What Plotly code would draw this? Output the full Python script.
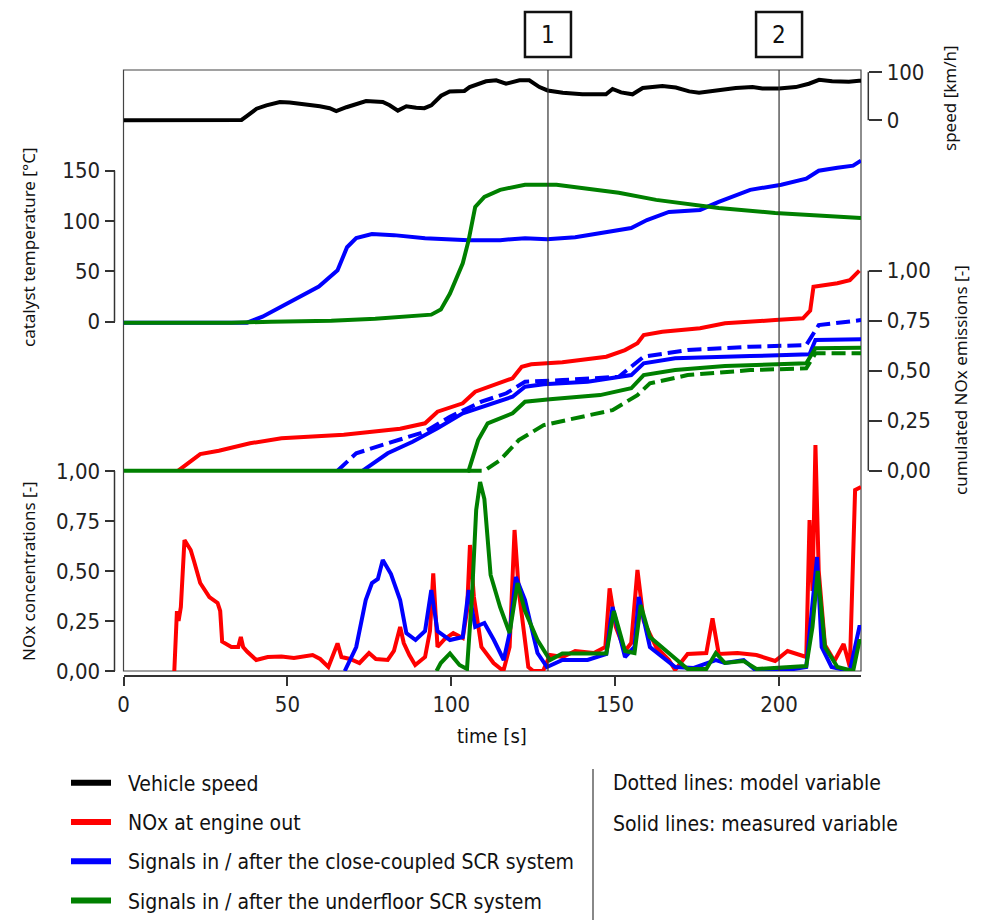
import plotly.graph_objects as go

# ---------------- data ----------------
speed_t = [0, 30, 31, 35, 36, 37.5, 40.6, 43.6, 47.7, 50.7, 52, 55.8, 59.9, 62.9, 64.9, 68, 70, 74, 79.1, 81.2,
           83.7, 86.3, 89.3, 91.8, 93.9, 96.9, 99.5, 104, 105.6, 108.6, 110.6, 113.7, 116.7, 120.8, 123.8, 126.9,
           129.4, 134, 140, 147.2, 149.2, 151.8, 155.3, 158.4, 164.4, 168.5, 172.6, 175.6, 180.7, 186.8, 191.9,
           194.9, 200, 205.1, 209.1, 212.2, 216.2, 221.3, 224.4, 225]
speed_v = [0, 0, 1.5, 1.5, 0.5, 8, 24, 31, 38, 37, 36, 31, 29, 25, 19, 27, 31, 40, 38, 31,
           20, 29, 26, 25, 31, 51, 60, 61, 69, 76, 81, 83, 76, 83, 83, 69,
           62, 57, 54, 54, 65, 58, 54, 67, 71, 68, 60, 57, 62, 67, 69,
           66, 66, 69, 76, 84, 81, 80, 82, 82]

temp_cc_t = [0, 37.7, 42.4, 50.1, 59.6, 65.3, 68.2, 71, 75.8, 82.5, 92, 105.3, 114.9, 122.5, 129.2, 137.8, 147.3,
             154.9, 159.7, 166.4, 175.9, 181.6, 191.2, 200.7, 208.3, 212.1, 217.8, 222.6, 224.5, 225]
temp_cc_v = [-1, -1, 5, 18, 35, 51, 74, 83, 87, 86, 83, 81, 81, 83, 82, 84, 89,
             93, 101, 109, 111, 119, 131, 136, 142, 150, 153, 155, 159, 160]
temp_uf_t = [0, 33, 45, 63.4, 76.8, 93.9, 96.8, 99.6, 103.5, 105.3, 107.3, 110.1, 114.9, 122.5, 132.1, 141.6,
             151.1, 162.5, 172.1, 181.6, 198.8, 210.2, 223.5, 225]
temp_uf_v = [-1, -1, 0, 1, 3, 7, 12, 28, 58, 81, 114, 124, 131, 136, 136, 132,
             128, 121, 117, 113, 108, 106, 103, 103]

cum_eo_t = [16.7, 20, 23.4, 29.1, 38.6, 48.2, 67.2, 84.4, 92, 95.8, 103.5, 107.3, 114.9, 118.7, 121.5, 124.4,
            133.9, 147.3, 153, 156.8, 158.7, 164.4, 175.9, 183.5, 198.8, 207.3, 209.5, 210.5, 217.8, 221.6, 224.5]
cum_eo_v = [0, 0.04, 0.083, 0.10, 0.137, 0.162, 0.18, 0.21, 0.237, 0.295, 0.337, 0.395, 0.437, 0.462, 0.52, 0.532,
            0.542, 0.57, 0.603, 0.637, 0.678, 0.695, 0.712, 0.737, 0.753, 0.762, 0.80, 0.92, 0.937, 0.953, 1.0]
cum_cc_meas_t = [73, 80.6, 88.2, 95.8, 103.5, 111.1, 118.7, 122.5, 128.2, 141.6, 154.9, 158.7, 168.3, 191.2,
                 209.3, 211.1, 225]
cum_cc_meas_v = [0, 0.087, 0.145, 0.212, 0.287, 0.328, 0.37, 0.42, 0.432, 0.445, 0.478, 0.537, 0.562, 0.573,
                 0.582, 0.653, 0.657]
cum_cc_model_t = [65.3, 71, 80.6, 92, 99.6, 109.2, 116.8, 122.5, 133.9, 151.1, 158.7, 172.1, 191.2, 208.3,
                  212.1, 225]
cum_cc_model_v = [0, 0.087, 0.137, 0.195, 0.27, 0.345, 0.387, 0.445, 0.453, 0.47, 0.57, 0.603, 0.62, 0.628,
                  0.728, 0.753]
cum_uf_meas_t = [0, 105.3, 108.2, 111.1, 118.7, 122.5, 130.1, 145.4, 154.9, 158.7, 168.3, 183.5, 208.3, 211.1, 225]
cum_uf_meas_v = [0, 0, 0.153, 0.237, 0.287, 0.345, 0.357, 0.378, 0.412, 0.478, 0.503, 0.523, 0.537, 0.612, 0.615]
cum_uf_model_t = [105, 110.1, 114.9, 120.6, 128.2, 137.8, 149.2, 156.8, 160.6, 172.1, 191.2, 208.3, 211.1, 225]
cum_uf_model_v = [0, 0, 0.053, 0.153, 0.228, 0.262, 0.303, 0.378, 0.437, 0.478, 0.503, 0.512, 0.587, 0.587]

conc_eo_t = [15.5, 16.3, 16.8, 17.5, 18.6, 20.5, 21.5, 23.4, 26.2, 28.7, 29.5, 30.1, 32.9, 35, 35.8, 36.5, 37.7,
             40.5, 44, 48.2, 52, 57.7, 60, 62.5, 65.3, 66.5, 69.1, 72, 74.9, 77, 80.6, 82.5, 84.4, 85.5, 87.2, 89,
             92, 93.5, 94.5, 95.8, 98, 100.6, 103.5, 104.8, 105.7, 106.9, 109.2, 112.9, 115.9, 117.8, 119.3, 120.6,
             123.5, 125, 128, 130.1, 134, 137.8, 143.5, 147, 148.3, 150.2, 153, 154.9, 156.8, 158.7, 162.5, 166.4,
             168.3, 172.1, 177.8, 179.7, 181.6, 187.3, 193.1, 198.8, 202.6, 208.3, 209.3, 210.2, 211.1, 212.1, 214,
             216.9, 219.7, 221.6, 223.2, 224.5, 225]
conc_eo_v = [0, 0.30, 0.25, 0.32, 0.655, 0.605, 0.55, 0.44, 0.37, 0.34, 0.30, 0.147, 0.12, 0.12, 0.17, 0.12, 0.097,
             0.055, 0.07, 0.072, 0.065, 0.08, 0.06, 0.02, 0.138, 0.07, 0.06, 0.04, 0.09, 0.06, 0.055, 0.1, 0.22, 0.14,
             0.08, 0.03, 0.07, 0.2, 0.488, 0.12, 0.16, 0.19, 0.165, 0.3, 0.63, 0.37, 0.12, 0.04, 0.0, 0.12, 0.705, 0.4,
             0.02, 0.0, 0.0, 0.08, 0.07, 0.1, 0.09, 0.12, 0.413, 0.22, 0.1, 0.14, 0.505, 0.25, 0.12, 0.055,
             0.005, 0.085, 0.09, 0.263, 0.085, 0.09, 0.08, 0.05, 0.1, 0.07, 0.755, 0.4, 1.13, 0.5, 0.13,
             0.05, 0.135, 0.02, 0.905, 0.92, 0.92]
conc_cc_t = [67.5, 71, 73.9, 75.8, 77.6, 79.1, 81.6, 84.4, 86.3, 89.1, 92, 93.9, 95.8, 99.6, 103.5, 105.3, 107.3,
             110.1, 113, 116, 117.8, 119.7, 122.5, 126.3, 129.2, 133.9, 141.6, 147.3, 149.2, 153, 155.9, 157.2,
             160.6, 164.4, 168.3, 174, 180.7, 183.5, 189.2, 193.1, 200.7, 208.3, 209.8, 211.6, 213, 216, 221.6,
             224.5, 225]
conc_cc_v = [0, 0.12, 0.355, 0.44, 0.46, 0.555, 0.485, 0.355, 0.19, 0.155, 0.2, 0.405, 0.2, 0.155, 0.17, 0.405, 0.22,
             0.24, 0.155, 0.055, 0.19, 0.47, 0.355, 0.09, 0.02, 0.055, 0.055, 0.085, 0.32, 0.07, 0.12, 0.37,
             0.12, 0.07, 0.02, 0.015, 0.055, 0.04, 0.055, 0.0, 0.0, 0.02, 0.27, 0.57, 0.12, 0.02, 0.0,
             0.22, 0.22]
conc_uf_t = [95.5, 96.8, 99.6, 102.5, 104.8, 106.3, 107.6, 108.8, 110.1, 112, 114.9, 117.8, 120.2, 122.5, 126.3,
             130.1, 133.9, 141.6, 147.3, 149.6, 153, 155.9, 157.8, 160.6, 166.4, 172.1, 177.8, 180.7, 183.5, 189.2,
             193.1, 200.7, 208.3, 210.2, 211.8, 214, 217.8, 222.6, 224.5, 225]
conc_uf_v = [0, 0.04, 0.088, 0.03, 0.01, 0.37, 0.805, 0.945, 0.86, 0.48, 0.32, 0.19, 0.44, 0.3, 0.155,
             0.055, 0.088, 0.088, 0.088, 0.3, 0.1, 0.09, 0.33, 0.17, 0.088, 0.01, 0.01, 0.09, 0.04, 0.05,
             0.01, 0.02, 0.025, 0.22, 0.5, 0.12, 0.02, 0.0, 0.15, 0.15]

marker_times = [129.5, 200]
marker_labels = ["1", "2"]

x_ticks = [0, 50, 100, 150, 200]
temp_ticks = [0, 50, 100, 150]
speed_ticks = [0, 100]
frac_ticks = [0, 0.25, 0.5, 0.75, 1.0]
frac_ticktext = ["0,00", "0,25", "0,50", "0,75", "1,00"]

legend_names = ["Vehicle speed", "NOx at engine out",
                "Signals in / after the close-coupled SCR system",
                "Signals in / after the underfloor SCR system"]
legend_colors = ["#000000", "#ff0000", "#0000ff", "#008000"]
note_texts = ["Dotted lines: model variable", "Solid lines: measured variable"]

# ---------------- layout helpers ----------------
W, H = 981, 920
ML, MR, MT, MB = 100, 101, 70, 244
PW, PH = W - ML - MR, H - MT - MB


def px(X):
    return (X - ML) / PW


def py(Y):
    return (H - MB - Y) / PH


COND = "'Liberation Sans Narrow', 'DejaVu Sans Condensed', 'Arial Narrow', 'Roboto Condensed', sans-serif"
SANS = "'Noto Sans', 'Open Sans', 'DejaVu Sans', sans-serif"
BLACK, RED, BLUE, GREEN = legend_colors
LW = 4

PLOT_L, PLOT_R, PLOT_T, PLOT_B = 123.5, 861.0, 70.0, 671.0
LEFT_AX, RIGHT_AX = 114.5, 868.3

fig = go.Figure()


def line(x, y, color, axis, dash=None):
    fig.add_trace(go.Scatter(x=x, y=y, mode="lines", yaxis=axis, showlegend=False, hoverinfo="skip",
                             line=dict(color=color, width=LW, dash=dash)))


# speed
line(speed_t, speed_v, BLACK, "y4")
# temperatures
line(temp_cc_t, temp_cc_v, BLUE, "y2")
line(temp_uf_t, temp_uf_v, GREEN, "y2")
# cumulated emissions
DASH = "14px,6px"
line(cum_eo_t, cum_eo_v, RED, "y3")
line(cum_cc_model_t, cum_cc_model_v, BLUE, "y3", DASH)
line(cum_cc_meas_t, cum_cc_meas_v, BLUE, "y3")
line(cum_uf_model_t, cum_uf_model_v, GREEN, "y3", DASH)
line(cum_uf_meas_t, cum_uf_meas_v, GREEN, "y3")
# concentrations
line(conc_eo_t, conc_eo_v, RED, "y")
line(conc_cc_t, conc_cc_v, BLUE, "y")
line(conc_uf_t, conc_uf_v, GREEN, "y")

# legend entries
NB = "\u00a0\u00a0"
for i, (name, col) in enumerate(zip(legend_names, legend_colors)):
    fig.add_trace(go.Scatter(x=[None], y=[None], mode="lines", name=NB + name, legendgroup=f"g{i}",
                             line=dict(color=col, width=6), hoverinfo="skip"))

dom = [py(PLOT_B), 1]
tick_common = dict(ticks="outside", tickwidth=1.5, tickcolor="#333", showgrid=False, zeroline=False,
                   showline=False, automargin=False, tickfont=dict(family=COND, size=22, color="#222"),
                   tickmode="array")

fig.update_layout(
    width=W, height=H, margin=dict(l=ML, r=MR, t=MT, b=MB, autoexpand=False),
    paper_bgcolor="white", plot_bgcolor="white",
    xaxis=dict(domain=[px(PLOT_L), px(PLOT_R)], range=[0, 225], anchor="free", position=0,
               showline=True, linecolor="#333", linewidth=1.5, ticks="outside", ticklen=9, tickwidth=1.5,
               tickcolor="#333", tickvals=x_ticks, showgrid=False, zeroline=False, automargin=False,
               tickfont=dict(family=COND, size=22, color="#222")),
    yaxis=dict(domain=dom, range=[0, (PLOT_B - PLOT_T) / 200], anchor="free", position=px(LEFT_AX),
               side="left", ticklen=10, tickvals=frac_ticks, ticktext=frac_ticktext, **tick_common),
    yaxis2=dict(overlaying="y", range=[-(PLOT_B - 321.7) / 1.00667, (321.7 - PLOT_T) / 1.00667],
                anchor="free", position=px(LEFT_AX), side="left", ticklen=10, tickvals=temp_ticks,
                **tick_common),
    yaxis3=dict(overlaying="y", range=[-(PLOT_B - 470.7) / 200, (470.7 - PLOT_T) / 200],
                anchor="free", position=px(RIGHT_AX), side="right", ticklen=13, tickvals=frac_ticks,
                ticktext=frac_ticktext, **tick_common),
    yaxis4=dict(overlaying="y", range=[-(PLOT_B - 120.2) / 0.48, (120.2 - PLOT_T) / 0.48],
                anchor="free", position=px(RIGHT_AX), side="right", ticklen=13, tickvals=speed_ticks,
                **tick_common),
    showlegend=True,
    legend=dict(x=px(66), y=py(762.5), xanchor="left", yanchor="top", orientation="v",
                font=dict(family=COND, size=21, color="#111"), bgcolor="rgba(0,0,0,0)",
                itemwidth=40, tracegroupgap=9, traceorder="grouped"),
)

shapes = []
# plot frame
shapes.append(dict(type="rect", xref="paper", yref="paper", x0=px(PLOT_L), x1=px(PLOT_R), y0=py(PLOT_B), y1=1,
                   line=dict(color="#444", width=1.2), layer="below"))
# axis spines (partial)
spine = dict(color="#333", width=1.5)
shapes.append(dict(type="line", xref="paper", yref="y2", x0=px(LEFT_AX), x1=px(LEFT_AX), y0=0, y1=150, line=spine))
shapes.append(dict(type="line", xref="paper", yref="y", x0=px(LEFT_AX), x1=px(LEFT_AX), y0=0, y1=1, line=spine))
shapes.append(dict(type="line", xref="paper", yref="y3", x0=px(RIGHT_AX), x1=px(RIGHT_AX), y0=0, y1=1, line=spine))
shapes.append(dict(type="line", xref="paper", yref="y4", x0=px(RIGHT_AX), x1=px(RIGHT_AX), y0=0, y1=100, line=spine))
# marker lines and boxes
for t in marker_times:
    shapes.append(dict(type="line", xref="x", yref="paper", x0=t, x1=t, y0=py(PLOT_B), y1=1,
                       line=dict(color="#333", width=1.2)))
    shapes.append(dict(type="rect", xref="x", xsizemode="pixel", xanchor=t, x0=-23, x1=23,
                       yref="paper", y0=py(57), y1=py(12), line=dict(color="#111", width=2.5)))
# legend divider
shapes.append(dict(type="line", xref="paper", yref="paper", x0=px(593), x1=px(593), y0=py(769), y1=py(920),
                   line=dict(color="#888", width=2)))
fig.update_layout(shapes=shapes)

ann = []
for t, lab in zip(marker_times, marker_labels):
    ann.append(dict(x=t, xref="x", y=py(34.5), yref="paper", text=lab, showarrow=False,
                    font=dict(family=COND, size=24, color="#111"), xanchor="center", yanchor="middle"))
titles = [
    ("catalyst temperature [°C]", 28, 247),
    ("NOx concentrations [-]", 28, 571),
    ("speed [km/h]", 949, 98),
    ("cumulated NOx emissions [-]", 960, 380),
]
for txt, X, Y in titles:
    ann.append(dict(x=px(X), y=py(Y), xref="paper", yref="paper", text=txt, showarrow=False, textangle=-90,
                    font=dict(family=SANS, size=17, color="#111"), xanchor="center", yanchor="middle"))
ann.append(dict(x=px(492), y=py(736), xref="paper", yref="paper", text="time [s]", showarrow=False,
                font=dict(family=COND, size=20, color="#111"), xanchor="center", yanchor="middle"))
for txt, Y in zip(note_texts, [783, 824]):
    ann.append(dict(x=px(611), y=py(Y), xref="paper", yref="paper", text=txt, showarrow=False,
                    font=dict(family=COND, size=21, color="#111"), xanchor="left", yanchor="middle"))
fig.update_layout(annotations=ann)

fig.write_html("out.html", config={"displayModeBar": False},
               post_script="document.body.style.margin='0px';document.body.style.padding='0px';")
